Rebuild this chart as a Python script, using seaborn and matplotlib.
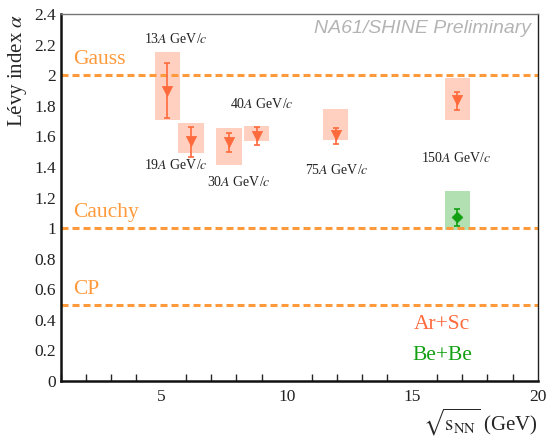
import matplotlib
matplotlib.use("Agg")
import matplotlib.pyplot as plt
import seaborn as sns
import pandas as pd
import numpy as np
from matplotlib.ticker import MultipleLocator, FuncFormatter

# ---- data ----
energies = ["13", "19", "30", "40", "75", "150"]
sqrt_s_arsc = [5.25, 6.2, 7.7, 8.8, 11.95, 16.8]
alpha_arsc = [1.90, 1.57, 1.565, 1.605, 1.61, 1.835]
stat_lo_arsc = [1.72, 1.465, 1.495, 1.545, 1.55, 1.77]
stat_hi_arsc = [2.08, 1.66, 1.62, 1.66, 1.655, 1.89]
sys_lo_arsc = [1.71, 1.49, 1.415, 1.57, 1.577, 1.708]
sys_hi_arsc = [2.15, 1.69, 1.655, 1.665, 1.778, 1.982]

sqrt_s_bebe = [16.8]
alpha_bebe = [1.07]
stat_lo_bebe = [1.017]
stat_hi_bebe = [1.124]
sys_lo_bebe = [0.99]
sys_hi_bebe = [1.241]

ref_values = [2.0, 1.0, 0.5]
ref_names = ["Gauss", "Cauchy", "CP"]

label_x = [5.6, 5.6, 8.1, 9.0, 12.0, 16.75]
label_y = [2.24, 1.41, 1.30, 1.81, 1.38, 1.46]

# ---- style ----
sns.set_style("white")
plt.rcParams["font.family"] = ["Liberation Serif", "DejaVu Serif"]
plt.rcParams["mathtext.fontset"] = "stix"

orange = "#ff9a3c"
red = "#ff6a3d"
red_box = "#ffd0c0"
green = "#12a012"
green_box = "#b3e0b3"

fig = plt.figure(figsize=(5.47, 4.41), dpi=100)
ax = fig.add_axes([0.111, 0.136, 0.872, 0.832])

df_a = pd.DataFrame({"x": sqrt_s_arsc, "alpha": alpha_arsc, "sys": "Ar+Sc"})
df_b = pd.DataFrame({"x": sqrt_s_bebe, "alpha": alpha_bebe, "sys": "Be+Be"})

# systematic boxes
ax.bar(sqrt_s_arsc, np.array(sys_hi_arsc) - np.array(sys_lo_arsc), bottom=sys_lo_arsc,
       width=1.02, color=red_box, edgecolor="none", zorder=1)
ax.bar(sqrt_s_bebe, np.array(sys_hi_bebe) - np.array(sys_lo_bebe), bottom=sys_lo_bebe,
       width=1.02, color=green_box, edgecolor="none", zorder=1)

# reference lines
for v in ref_values:
    ax.axhline(v, color=orange, lw=2.2, dashes=(2.3, 1.3), zorder=2)
for v, n in zip(ref_values, ref_names):
    ax.text(1.5, v + 0.1, n, color=orange, fontsize=15.5, ha="left", va="center", zorder=3)

# statistical error bars
ax.errorbar(sqrt_s_arsc, alpha_arsc,
            yerr=[np.array(alpha_arsc) - np.array(stat_lo_arsc), np.array(stat_hi_arsc) - np.array(alpha_arsc)],
            fmt="none", ecolor=red, elinewidth=1.2, capsize=2.5, capthick=1.2, zorder=4)
ax.errorbar(sqrt_s_bebe, alpha_bebe,
            yerr=[np.array(alpha_bebe) - np.array(stat_lo_bebe), np.array(stat_hi_bebe) - np.array(alpha_bebe)],
            fmt="none", ecolor=green, elinewidth=1.2, capsize=2.5, capthick=1.2, zorder=4)

sns.scatterplot(data=df_a, x="x", y="alpha", marker="v", color=red, s=55,
                edgecolor=red, linewidth=0.5, ax=ax, zorder=5, legend=False)
sns.scatterplot(data=df_b, x="x", y="alpha", marker="D", color=green, s=30,
                edgecolor=green, linewidth=0.5, ax=ax, zorder=5, legend=False)

# energy labels
for e, lx, ly in zip(energies, label_x, label_y):
    ax.text(lx, ly, e + r"$A$ GeV/$c$", fontsize=10, ha="center", va="center", color="#222222")

ax.text(0.985, 0.985, "NA61/SHINE Preliminary", transform=ax.transAxes, ha="right", va="top",
        fontsize=14, color="#b4b4b4", style="italic", family=["Liberation Sans", "DejaVu Sans"])

ax.text(0.80, 0.155, "Ar+Sc", transform=ax.transAxes, ha="center", va="center", color=red, fontsize=15.5)
ax.text(0.80, 0.07, "Be+Be", transform=ax.transAxes, ha="center", va="center", color=green, fontsize=15.5)

ax.set_xlim(1, 20)
ax.set_ylim(0, 2.4)
ax.xaxis.set_major_locator(MultipleLocator(5))
ax.xaxis.set_minor_locator(MultipleLocator(1))
ax.yaxis.set_major_locator(MultipleLocator(0.2))
ax.yaxis.set_major_formatter(FuncFormatter(lambda v, p: f"{v:g}"))
ax.tick_params(axis="both", which="major", direction="in", length=8, width=1.2, labelsize=12.5,
               top=False, right=False, colors="#222222")
ax.tick_params(axis="x", which="minor", direction="in", length=5, width=1.0, top=False, bottom=True)
ax.tick_params(axis="x", which="major", pad=6)

for s in ["left", "bottom"]:
    ax.spines[s].set_linewidth(1.8)
    ax.spines[s].set_color("#111111")
ax.spines["top"].set_linewidth(1.0)
ax.spines["top"].set_color("#777777")
ax.spines["right"].set_linewidth(1.0)
ax.spines["right"].set_color("#222222")

ax.set_xlabel(r"$\sqrt{\mathrm{s}_{\mathrm{NN}}}$ (GeV)", fontsize=15, loc="right", labelpad=1)
ax.set_ylabel(r"Lévy index $\alpha$", fontsize=15, loc="top", labelpad=4)

fig.savefig("out.png", dpi=100)
